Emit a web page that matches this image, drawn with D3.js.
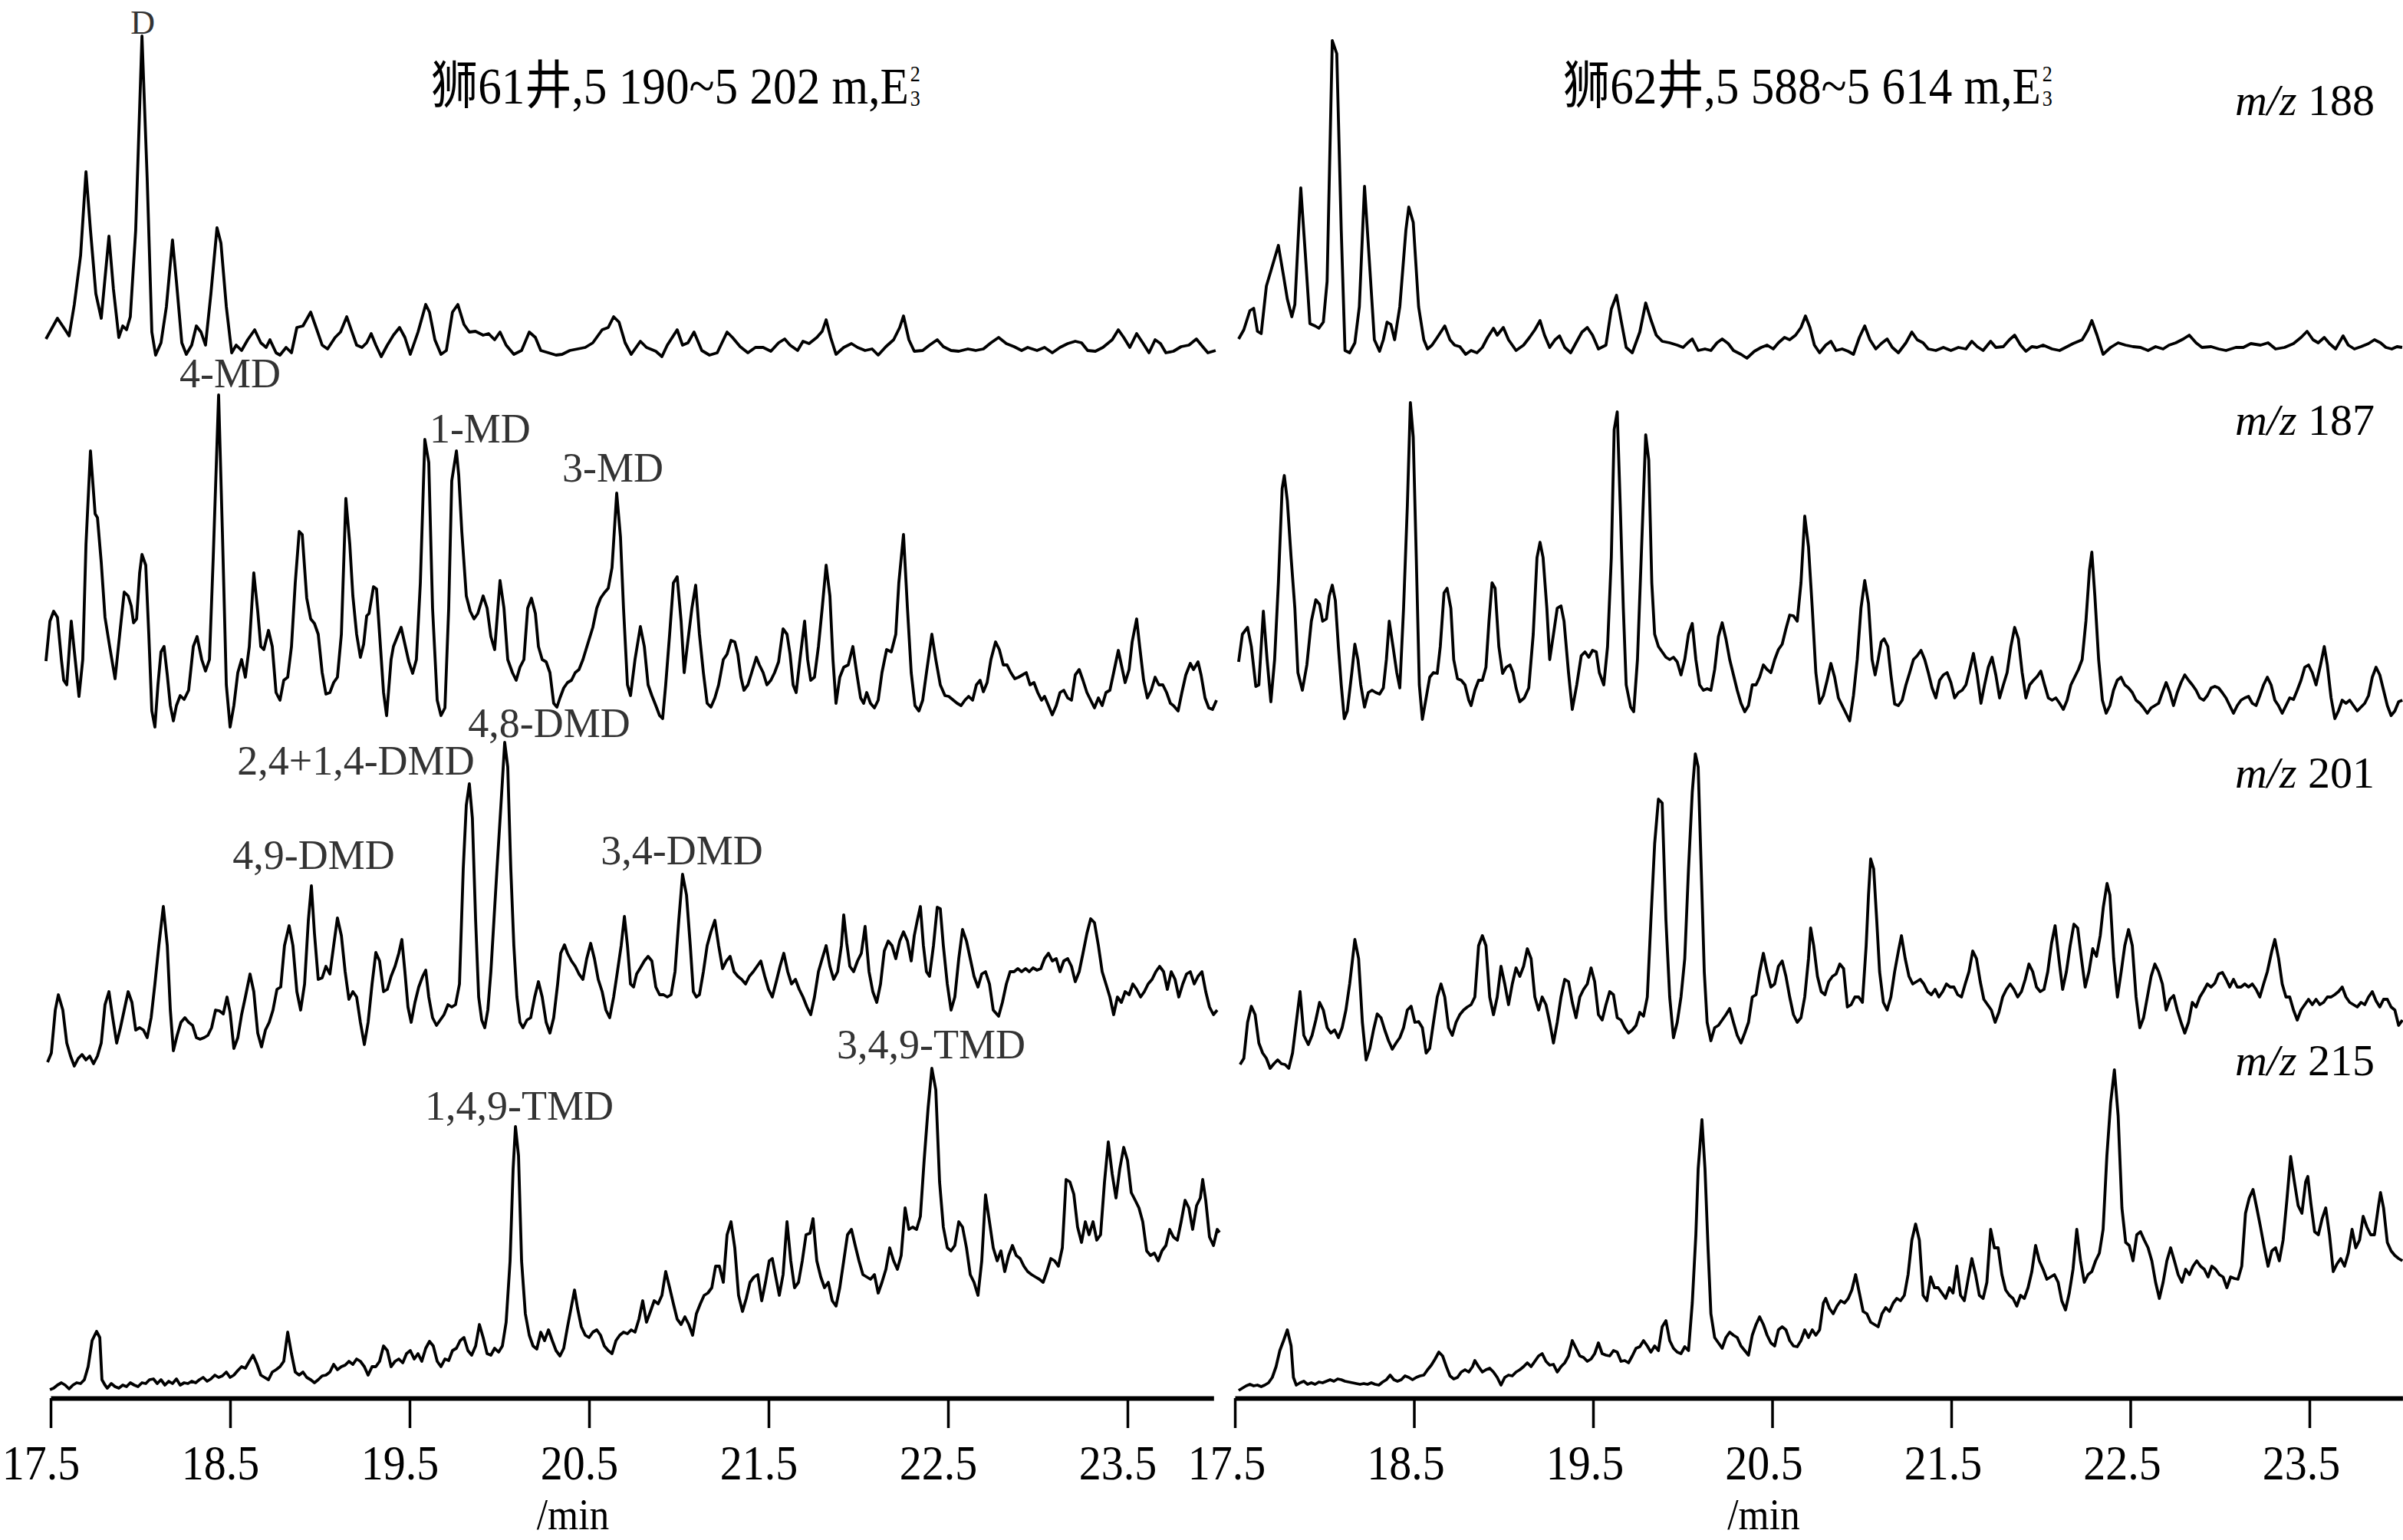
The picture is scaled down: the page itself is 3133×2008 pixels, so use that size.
<!DOCTYPE html>
<html><head><meta charset="utf-8">
<script src="https://cdnjs.cloudflare.com/ajax/libs/d3/7.8.5/d3.min.js"></script>
<style>html,body{margin:0;padding:0;background:#fff;overflow:hidden}svg{display:block}</style>
</head><body>
<svg id="chart" width="3133" height="2008"></svg>
<script>
// ---------------- data (retention time / min, relative abundance) ----------------
const timeTicks = [17.5, 18.5, 19.5, 20.5, 21.5, 22.5, 23.5];
const ions = ["188", "187", "201", "215"];
const wellTitles = ["狮61井,5 190~5 202 m,E", "狮62井,5 588~5 614 m,E"];
const peakNames = ["D", "4-MD", "1-MD", "3-MD", "2,4+1,4-DMD", "4,8-DMD", "4,9-DMD", "3,4-DMD", "1,4,9-TMD", "3,4,9-TMD"];
const peakRows  = [0, 1, 1, 1, 2, 2, 2, 2, 3, 3];
const peakRT    = [18.009, 18.436, 19.585, 20.654, 19.833, 20.030, 18.953, 21.021, 20.090, 22.410];

const l188 = [[17.474,28],[17.538,55],[17.581,40],[17.603,32],[17.632,73],[17.667,137],[17.697,246],[17.722,170],[17.752,87],[17.782,55],[17.825,162],[17.850,93],[17.880,30],[17.902,45],[17.923,40],[17.944,57],[17.974,170],[18.009,423],[18.038,237],[18.064,37],[18.085,7],[18.115,23],[18.145,70],[18.179,157],[18.201,103],[18.231,23],[18.256,8],[18.286,20],[18.312,45],[18.338,37],[18.363,20],[18.393,87],[18.427,173],[18.449,153],[18.479,70],[18.509,10],[18.534,20],[18.564,13],[18.598,27],[18.637,40],[18.671,23],[18.701,17],[18.722,27],[18.756,10],[18.778,7],[18.812,17],[18.842,10],[18.872,43],[18.906,45],[18.949,63],[18.979,43],[19.013,20],[19.043,15],[19.085,30],[19.115,37],[19.150,57],[19.175,40],[19.205,20],[19.235,17],[19.261,23],[19.286,35],[19.312,20],[19.342,5],[19.376,20],[19.410,33],[19.444,43],[19.474,30],[19.504,8],[19.547,37],[19.590,73],[19.611,63],[19.641,27],[19.675,8],[19.705,13],[19.739,63],[19.769,73],[19.803,47],[19.833,37],[19.867,38],[19.910,33],[19.940,35],[19.974,27],[20.004,37],[20.038,20],[20.081,8],[20.124,13],[20.167,37],[20.201,30],[20.231,13],[20.274,10],[20.316,7],[20.350,8],[20.393,13],[20.436,15],[20.479,17],[20.521,23],[20.573,40],[20.607,43],[20.637,57],[20.667,50],[20.701,23],[20.735,8],[20.786,25],[20.820,17],[20.872,12],[20.906,5],[20.936,20],[20.991,40],[21.021,20],[21.051,23],[21.085,37],[21.128,13],[21.171,7],[21.214,10],[21.269,37],[21.299,30],[21.342,18],[21.385,10],[21.427,17],[21.470,17],[21.513,12],[21.556,23],[21.590,28],[21.620,20],[21.662,13],[21.692,25],[21.726,22],[21.769,30],[21.799,38],[21.821,53],[21.846,30],[21.876,8],[21.919,17],[21.962,22],[21.996,17],[22.038,13],[22.077,15],[22.111,7],[22.154,18],[22.197,27],[22.231,43],[22.252,58],[22.282,27],[22.312,12],[22.359,13],[22.397,20],[22.440,27],[22.474,18],[22.517,13],[22.560,12],[22.611,15],[22.654,13],[22.697,15],[22.739,23],[22.782,30],[22.825,22],[22.868,18],[22.910,13],[22.944,17],[22.996,13],[23.038,17],[23.081,10],[23.124,17],[23.167,22],[23.209,25],[23.244,23],[23.278,13],[23.321,12],[23.363,17],[23.415,27],[23.449,40],[23.479,30],[23.513,17],[23.551,35],[23.585,23],[23.620,10],[23.654,27],[23.684,22],[23.714,10],[23.756,12],[23.799,18],[23.842,20],[23.884,28],[23.919,18],[23.948,10],[23.991,13]];

const r188 = [[17.521,28],[17.550,40],[17.584,65],[17.605,68],[17.626,38],[17.647,35],[17.676,97],[17.709,123],[17.743,150],[17.772,110],[17.793,80],[17.818,57],[17.835,73],[17.868,225],[17.894,137],[17.919,48],[17.948,45],[17.969,42],[17.994,50],[18.015,103],[18.044,417],[18.069,400],[18.094,170],[18.115,13],[18.141,10],[18.170,23],[18.195,70],[18.224,227],[18.249,137],[18.279,27],[18.308,12],[18.329,27],[18.350,50],[18.371,47],[18.392,27],[18.421,70],[18.455,170],[18.471,200],[18.496,180],[18.526,70],[18.555,27],[18.576,15],[18.601,20],[18.630,30],[18.672,45],[18.701,27],[18.727,20],[18.756,18],[18.789,8],[18.819,13],[18.852,10],[18.882,17],[18.911,30],[18.944,42],[18.965,33],[18.999,43],[19.028,27],[19.070,13],[19.112,20],[19.145,30],[19.175,40],[19.204,52],[19.229,33],[19.258,17],[19.288,27],[19.313,32],[19.342,17],[19.375,10],[19.405,23],[19.438,37],[19.468,43],[19.497,33],[19.530,15],[19.572,20],[19.602,67],[19.631,85],[19.656,53],[19.685,17],[19.719,10],[19.761,37],[19.794,75],[19.823,53],[19.853,33],[19.886,25],[19.928,23],[19.970,20],[20.003,17],[20.029,23],[20.054,28],[20.087,13],[20.125,15],[20.158,13],[20.192,23],[20.221,28],[20.255,22],[20.284,13],[20.326,8],[20.359,3],[20.401,12],[20.439,17],[20.472,20],[20.506,15],[20.535,23],[20.569,30],[20.598,27],[20.631,33],[20.661,43],[20.686,58],[20.711,43],[20.736,20],[20.765,10],[20.799,20],[20.828,25],[20.857,13],[20.891,15],[20.924,12],[20.954,8],[20.987,30],[21.017,45],[21.046,27],[21.079,15],[21.109,22],[21.142,28],[21.171,17],[21.205,10],[21.247,23],[21.280,37],[21.310,27],[21.343,23],[21.372,15],[21.414,13],[21.456,17],[21.498,13],[21.540,17],[21.582,15],[21.615,25],[21.645,18],[21.678,13],[21.720,25],[21.749,17],[21.791,18],[21.825,27],[21.854,33],[21.887,20],[21.917,12],[21.950,18],[21.979,17],[22.013,20],[22.063,15],[22.105,13],[22.147,18],[22.180,22],[22.231,27],[22.264,40],[22.285,52],[22.314,33],[22.348,8],[22.390,17],[22.432,23],[22.473,20],[22.515,18],[22.557,17],[22.599,13],[22.641,18],[22.683,15],[22.716,20],[22.754,23],[22.796,28],[22.829,33],[22.867,23],[22.900,17],[22.951,18],[22.993,15],[23.034,13],[23.089,17],[23.131,17],[23.173,22],[23.227,20],[23.269,23],[23.311,15],[23.361,17],[23.411,22],[23.453,30],[23.487,38],[23.520,27],[23.549,23],[23.583,30],[23.612,22],[23.646,15],[23.688,32],[23.717,20],[23.751,15],[23.788,18],[23.830,22],[23.863,27],[23.897,23],[23.927,17],[23.960,15],[23.989,18],[24.018,17]];

const l187 = [[17.474,88],[17.496,140],[17.517,153],[17.538,145],[17.560,90],[17.573,63],[17.590,57],[17.615,140],[17.637,90],[17.658,42],[17.679,90],[17.697,240],[17.722,362],[17.748,280],[17.761,275],[17.782,217],[17.803,145],[17.829,107],[17.859,65],[17.885,123],[17.910,178],[17.932,173],[17.949,160],[17.962,138],[17.979,143],[17.996,203],[18.009,227],[18.030,213],[18.047,123],[18.064,23],[18.081,2],[18.098,57],[18.115,100],[18.132,107],[18.150,70],[18.167,30],[18.184,10],[18.201,30],[18.222,43],[18.244,38],[18.269,50],[18.295,107],[18.316,120],[18.342,90],[18.363,75],[18.385,90],[18.406,223],[18.436,435],[18.457,257],[18.479,57],[18.500,2],[18.521,30],[18.543,73],[18.564,90],[18.585,67],[18.607,107],[18.632,203],[18.654,153],[18.671,107],[18.688,103],[18.714,128],[18.735,107],[18.756,47],[18.778,37],[18.799,63],[18.821,67],[18.842,107],[18.863,190],[18.885,257],[18.902,253],[18.927,170],[18.949,143],[18.970,137],[18.991,123],[19.013,73],[19.034,45],[19.056,47],[19.077,60],[19.098,67],[19.120,123],[19.145,300],[19.167,240],[19.184,173],[19.205,123],[19.226,93],[19.244,110],[19.261,147],[19.274,150],[19.299,185],[19.316,182],[19.333,123],[19.355,47],[19.372,17],[19.397,90],[19.410,107],[19.432,120],[19.453,132],[19.474,110],[19.496,87],[19.517,72],[19.538,90],[19.560,190],[19.585,377],[19.607,347],[19.628,157],[19.654,37],[19.675,17],[19.697,27],[19.718,157],[19.735,323],[19.761,362],[19.774,330],[19.791,257],[19.816,173],[19.838,153],[19.859,143],[19.880,150],[19.910,173],[19.932,157],[19.953,120],[19.974,103],[20.004,193],[20.026,157],[20.047,90],[20.073,73],[20.094,63],[20.115,80],[20.137,90],[20.158,157],[20.179,170],[20.201,150],[20.218,107],[20.239,90],[20.261,87],[20.282,73],[20.303,33],[20.321,28],[20.338,40],[20.359,53],[20.380,60],[20.402,63],[20.423,73],[20.444,77],[20.466,90],[20.496,113],[20.521,132],[20.543,157],[20.564,170],[20.585,177],[20.607,183],[20.628,210],[20.654,307],[20.675,250],[20.692,157],[20.714,57],[20.731,43],[20.756,90],[20.786,133],[20.808,107],[20.829,57],[20.850,43],[20.872,30],[20.893,17],[20.910,13],[20.927,57],[20.949,123],[20.970,190],[20.991,198],[21.013,140],[21.030,73],[21.047,107],[21.073,157],[21.094,187],[21.115,123],[21.137,73],[21.158,33],[21.179,28],[21.201,40],[21.222,57],[21.248,90],[21.269,97],[21.291,115],[21.312,113],[21.329,97],[21.346,67],[21.363,50],[21.385,57],[21.406,73],[21.432,93],[21.449,83],[21.470,73],[21.491,57],[21.513,63],[21.534,73],[21.556,87],[21.581,130],[21.603,123],[21.620,97],[21.637,57],[21.654,47],[21.675,90],[21.701,140],[21.718,90],[21.735,63],[21.756,67],[21.778,107],[21.799,157],[21.821,213],[21.842,173],[21.859,90],[21.876,33],[21.897,67],[21.919,80],[21.944,83],[21.970,107],[21.991,73],[22.013,40],[22.030,33],[22.047,47],[22.068,33],[22.090,27],[22.111,37],[22.132,73],[22.158,103],[22.184,100],[22.209,123],[22.226,190],[22.252,253],[22.274,157],[22.295,73],[22.316,30],[22.338,23],[22.359,37],[22.380,73],[22.410,123],[22.432,90],[22.457,57],[22.483,43],[22.504,42],[22.530,37],[22.551,33],[22.573,30],[22.594,37],[22.615,42],[22.637,37],[22.658,57],[22.679,63],[22.697,48],[22.718,60],[22.739,90],[22.765,113],[22.786,103],[22.808,83],[22.829,83],[22.850,73],[22.872,65],[22.893,67],[22.915,70],[22.936,73],[22.957,57],[22.979,60],[23.000,47],[23.021,37],[23.038,42],[23.060,30],[23.081,18],[23.103,30],[23.124,47],[23.145,50],[23.167,40],[23.188,37],[23.209,70],[23.231,77],[23.252,63],[23.274,47],[23.295,37],[23.316,27],[23.338,40],[23.359,30],[23.380,47],[23.402,50],[23.423,73],[23.449,102],[23.466,83],[23.487,60],[23.509,77],[23.526,113],[23.551,143],[23.568,107],[23.590,63],[23.611,40],[23.632,50],[23.654,67],[23.675,57],[23.697,57],[23.718,47],[23.739,33],[23.756,30],[23.782,23],[23.803,47],[23.825,70],[23.850,85],[23.868,77],[23.893,87],[23.910,70],[23.932,40],[23.953,27],[23.974,25],[23.996,37]];

const r187 = [[17.521,87],[17.542,123],[17.571,132],[17.592,107],[17.617,55],[17.634,57],[17.659,153],[17.680,90],[17.701,35],[17.722,90],[17.743,190],[17.764,313],[17.776,330],[17.793,297],[17.814,223],[17.835,157],[17.852,73],[17.877,50],[17.902,83],[17.927,140],[17.952,168],[17.973,162],[17.990,140],[18.011,143],[18.027,173],[18.044,187],[18.061,167],[18.078,107],[18.094,57],[18.111,13],[18.128,23],[18.153,73],[18.170,110],[18.187,90],[18.203,57],[18.224,28],[18.245,47],[18.266,50],[18.287,47],[18.308,45],[18.329,53],[18.346,90],[18.362,140],[18.383,107],[18.404,73],[18.421,53],[18.442,157],[18.463,290],[18.480,425],[18.496,380],[18.513,223],[18.530,57],[18.547,12],[18.568,40],[18.588,67],[18.609,73],[18.630,72],[18.647,107],[18.668,177],[18.685,183],[18.706,157],[18.722,90],[18.743,65],[18.764,63],[18.785,57],[18.806,37],[18.819,30],[18.840,50],[18.861,63],[18.882,63],[18.902,80],[18.919,140],[18.936,190],[18.953,183],[18.974,107],[18.995,72],[19.015,80],[19.036,83],[19.053,73],[19.070,53],[19.091,35],[19.116,40],[19.141,53],[19.166,123],[19.187,223],[19.204,243],[19.221,223],[19.242,157],[19.258,90],[19.279,123],[19.300,157],[19.321,160],[19.338,140],[19.363,73],[19.384,25],[19.409,57],[19.434,95],[19.455,100],[19.476,93],[19.497,102],[19.518,100],[19.535,73],[19.560,57],[19.581,107],[19.602,223],[19.618,390],[19.635,413],[19.652,290],[19.669,157],[19.685,57],[19.710,28],[19.727,22],[19.748,90],[19.769,223],[19.794,383],[19.811,350],[19.828,190],[19.844,123],[19.865,107],[19.886,100],[19.907,93],[19.928,90],[19.949,93],[19.970,87],[19.991,70],[20.012,90],[20.033,123],[20.054,137],[20.074,90],[20.095,57],[20.116,50],[20.137,52],[20.158,50],[20.179,77],[20.200,120],[20.221,138],[20.242,117],[20.263,90],[20.284,70],[20.305,50],[20.326,33],[20.347,22],[20.368,30],[20.389,57],[20.410,57],[20.430,67],[20.451,83],[20.472,77],[20.493,73],[20.514,90],[20.535,103],[20.556,110],[20.577,130],[20.598,148],[20.619,147],[20.640,140],[20.661,190],[20.682,277],[20.703,237],[20.724,157],[20.744,73],[20.765,33],[20.786,43],[20.807,63],[20.828,85],[20.849,67],[20.870,40],[20.891,30],[20.912,20],[20.933,10],[20.954,43],[20.975,90],[20.996,157],[21.017,193],[21.038,163],[21.058,90],[21.075,70],[21.092,90],[21.109,113],[21.125,117],[21.146,107],[21.163,70],[21.184,32],[21.205,30],[21.226,37],[21.247,57],[21.268,73],[21.289,90],[21.310,95],[21.331,102],[21.352,90],[21.372,73],[21.393,53],[21.414,40],[21.435,63],[21.456,70],[21.477,73],[21.498,60],[21.519,40],[21.540,47],[21.561,50],[21.582,57],[21.603,77],[21.624,98],[21.645,70],[21.666,33],[21.686,57],[21.707,80],[21.728,93],[21.749,70],[21.770,40],[21.791,57],[21.812,73],[21.833,107],[21.854,132],[21.875,117],[21.896,73],[21.917,40],[21.938,57],[21.959,63],[21.980,68],[22.000,75],[22.021,57],[22.042,40],[22.063,37],[22.084,40],[22.105,33],[22.126,25],[22.147,37],[22.168,57],[22.189,67],[22.210,77],[22.231,90],[22.252,140],[22.272,207],[22.285,230],[22.302,173],[22.323,90],[22.344,37],[22.365,20],[22.386,30],[22.406,50],[22.427,63],[22.448,67],[22.469,57],[22.490,53],[22.511,47],[22.532,37],[22.553,33],[22.574,27],[22.595,20],[22.616,27],[22.637,30],[22.658,33],[22.679,47],[22.700,60],[22.721,47],[22.741,30],[22.762,47],[22.783,60],[22.804,70],[22.825,63],[22.846,57],[22.867,50],[22.888,40],[22.909,37],[22.930,43],[22.951,53],[22.972,55],[22.993,53],[23.013,47],[23.034,40],[23.055,30],[23.076,20],[23.097,30],[23.118,37],[23.139,40],[23.160,42],[23.181,33],[23.202,30],[23.223,43],[23.244,57],[23.265,67],[23.286,57],[23.307,37],[23.327,30],[23.348,20],[23.369,30],[23.390,40],[23.411,38],[23.432,50],[23.453,63],[23.474,80],[23.495,83],[23.516,73],[23.537,57],[23.562,83],[23.583,107],[23.600,83],[23.621,40],[23.642,13],[23.662,23],[23.683,37],[23.704,33],[23.725,37],[23.746,30],[23.767,23],[23.788,28],[23.809,33],[23.830,43],[23.851,67],[23.872,80],[23.893,70],[23.914,50],[23.935,30],[23.956,17],[23.977,23],[23.998,35],[24.019,37]];

const l201 = [[17.483,15],[17.504,27],[17.526,83],[17.543,103],[17.568,83],[17.590,40],[17.611,23],[17.632,10],[17.654,20],[17.675,25],[17.697,18],[17.718,23],[17.739,13],[17.761,23],[17.782,40],[17.803,90],[17.825,107],[17.846,73],[17.868,40],[17.889,60],[17.910,83],[17.932,107],[17.953,93],[17.974,57],[17.996,60],[18.017,57],[18.038,47],[18.060,73],[18.081,117],[18.103,167],[18.128,218],[18.150,167],[18.167,83],[18.184,30],[18.205,50],[18.226,67],[18.248,73],[18.269,67],[18.291,63],[18.312,47],[18.333,45],[18.355,47],[18.376,50],[18.397,60],[18.419,83],[18.440,82],[18.462,78],[18.483,100],[18.500,80],[18.521,33],[18.543,47],[18.564,77],[18.585,100],[18.611,130],[18.632,107],[18.654,53],[18.675,35],[18.697,57],[18.718,67],[18.739,83],[18.761,110],[18.782,113],[18.803,167],[18.829,193],[18.850,167],[18.872,107],[18.893,83],[18.915,117],[18.936,200],[18.953,245],[18.970,183],[18.991,123],[19.013,125],[19.034,140],[19.056,130],[19.077,167],[19.098,203],[19.120,180],[19.141,133],[19.162,97],[19.184,107],[19.205,100],[19.226,67],[19.248,38],[19.269,67],[19.291,117],[19.312,158],[19.333,147],[19.355,107],[19.376,110],[19.397,127],[19.419,140],[19.440,157],[19.457,175],[19.474,133],[19.491,87],[19.509,67],[19.530,93],[19.551,113],[19.573,127],[19.590,135],[19.607,100],[19.628,73],[19.650,63],[19.671,70],[19.692,77],[19.714,90],[19.735,87],[19.756,90],[19.778,117],[19.799,267],[19.816,350],[19.833,378],[19.850,333],[19.868,200],[19.885,100],[19.902,70],[19.919,60],[19.936,83],[19.953,133],[19.970,200],[19.987,267],[20.009,350],[20.030,432],[20.047,400],[20.064,267],[20.081,167],[20.098,100],[20.115,67],[20.132,60],[20.154,70],[20.175,73],[20.197,100],[20.218,120],[20.239,100],[20.261,67],[20.282,53],[20.303,73],[20.325,117],[20.342,157],[20.363,168],[20.380,157],[20.402,147],[20.423,140],[20.444,130],[20.466,123],[20.487,150],[20.509,170],[20.530,150],[20.551,123],[20.573,107],[20.594,83],[20.615,73],[20.637,100],[20.658,133],[20.679,167],[20.697,205],[20.714,167],[20.731,117],[20.748,113],[20.765,130],[20.786,138],[20.808,147],[20.829,153],[20.850,147],[20.872,113],[20.893,103],[20.915,103],[20.936,100],[20.957,103],[20.979,133],[21.000,200],[21.021,260],[21.043,233],[21.064,167],[21.081,107],[21.098,100],[21.115,103],[21.137,133],[21.158,167],[21.179,185],[21.201,200],[21.222,167],[21.244,137],[21.265,147],[21.286,153],[21.308,133],[21.329,127],[21.350,123],[21.372,117],[21.393,127],[21.415,133],[21.436,140],[21.457,147],[21.479,127],[21.500,110],[21.521,100],[21.543,120],[21.564,140],[21.585,157],[21.607,133],[21.628,117],[21.650,123],[21.671,110],[21.692,100],[21.714,87],[21.735,77],[21.756,100],[21.778,133],[21.799,150],[21.821,167],[21.842,140],[21.863,123],[21.885,133],[21.906,167],[21.919,207],[21.936,170],[21.953,140],[21.974,133],[21.996,147],[22.017,157],[22.038,192],[22.060,133],[22.081,107],[22.103,93],[22.124,117],[22.145,160],[22.167,173],[22.188,167],[22.209,150],[22.231,173],[22.252,185],[22.274,173],[22.295,147],[22.312,180],[22.329,200],[22.346,218],[22.363,167],[22.380,133],[22.397,127],[22.419,167],[22.440,217],[22.457,215],[22.474,167],[22.496,117],[22.517,83],[22.538,100],[22.560,150],[22.581,188],[22.603,173],[22.624,150],[22.645,127],[22.667,113],[22.688,130],[22.709,133],[22.731,117],[22.752,83],[22.782,75],[22.803,93],[22.825,117],[22.846,133],[22.868,133],[22.889,137],[22.910,133],[22.932,137],[22.953,133],[22.974,138],[22.996,135],[23.017,137],[23.038,150],[23.060,157],[23.081,147],[23.103,150],[23.124,133],[23.145,147],[23.167,150],[23.188,140],[23.209,120],[23.231,133],[23.252,157],[23.274,183],[23.295,202],[23.316,197],[23.338,167],[23.359,133],[23.380,117],[23.402,100],[23.423,77],[23.444,100],[23.466,93],[23.487,107],[23.509,103],[23.530,117],[23.551,110],[23.573,100],[23.594,107],[23.615,117],[23.637,123],[23.658,133],[23.679,140],[23.701,133],[23.722,110],[23.744,133],[23.765,123],[23.786,100],[23.808,117],[23.829,130],[23.850,133],[23.872,117],[23.893,127],[23.915,133],[23.936,107],[23.957,87],[23.979,77],[24.000,83]];

const r201 = [[17.529,12],[17.550,20],[17.571,67],[17.592,88],[17.613,77],[17.634,40],[17.655,27],[17.676,20],[17.697,7],[17.718,13],[17.739,18],[17.760,13],[17.780,12],[17.801,7],[17.822,27],[17.843,67],[17.864,107],[17.885,50],[17.910,38],[17.931,50],[17.952,70],[17.973,93],[17.994,83],[18.015,60],[18.036,53],[18.057,57],[18.078,47],[18.099,60],[18.120,83],[18.141,117],[18.170,175],[18.191,150],[18.212,67],[18.233,18],[18.254,33],[18.274,57],[18.295,78],[18.316,73],[18.337,57],[18.358,43],[18.379,32],[18.400,40],[18.421,47],[18.442,60],[18.463,83],[18.484,88],[18.505,67],[18.526,68],[18.547,60],[18.568,27],[18.588,33],[18.609,67],[18.630,100],[18.651,117],[18.672,100],[18.693,60],[18.714,50],[18.735,67],[18.756,77],[18.777,83],[18.798,87],[18.819,90],[18.840,100],[18.861,167],[18.882,180],[18.902,167],[18.923,100],[18.944,77],[18.965,100],[18.986,140],[19.007,117],[19.028,90],[19.049,117],[19.070,138],[19.091,127],[19.112,140],[19.133,163],[19.154,150],[19.175,100],[19.196,83],[19.216,100],[19.237,90],[19.258,67],[19.279,40],[19.300,67],[19.321,100],[19.342,123],[19.363,120],[19.384,93],[19.405,73],[19.426,100],[19.447,110],[19.468,117],[19.489,138],[19.509,120],[19.530,77],[19.551,70],[19.572,90],[19.593,107],[19.614,103],[19.635,73],[19.656,70],[19.677,60],[19.698,53],[19.719,57],[19.740,63],[19.761,80],[19.782,75],[19.803,100],[19.823,200],[19.844,300],[19.865,358],[19.886,353],[19.907,200],[19.928,100],[19.949,47],[19.970,67],[19.991,100],[20.012,150],[20.033,267],[20.054,367],[20.071,417],[20.087,400],[20.104,267],[20.121,133],[20.137,67],[20.158,43],[20.179,60],[20.200,63],[20.221,70],[20.242,77],[20.263,85],[20.284,67],[20.305,50],[20.326,40],[20.347,53],[20.368,67],[20.389,100],[20.410,103],[20.430,133],[20.451,157],[20.472,133],[20.493,113],[20.514,117],[20.535,140],[20.556,147],[20.577,127],[20.598,100],[20.619,77],[20.640,67],[20.661,73],[20.682,100],[20.703,150],[20.715,190],[20.732,167],[20.753,127],[20.774,107],[20.795,103],[20.816,120],[20.837,127],[20.857,130],[20.878,143],[20.899,137],[20.920,87],[20.941,90],[20.962,100],[20.983,100],[21.004,93],[21.025,167],[21.038,233],[21.050,280],[21.067,267],[21.084,200],[21.100,133],[21.121,93],[21.142,83],[21.163,100],[21.184,133],[21.205,160],[21.222,180],[21.243,150],[21.264,127],[21.285,117],[21.306,120],[21.327,123],[21.347,117],[21.368,107],[21.389,103],[21.410,110],[21.431,100],[21.452,107],[21.473,117],[21.494,113],[21.515,113],[21.536,103],[21.557,100],[21.578,117],[21.599,133],[21.620,160],[21.641,150],[21.662,120],[21.682,97],[21.703,90],[21.724,83],[21.745,67],[21.766,80],[21.787,100],[21.808,110],[21.829,117],[21.850,110],[21.871,100],[21.892,107],[21.913,123],[21.934,143],[21.955,133],[21.976,113],[21.997,107],[22.018,110],[22.039,133],[22.060,170],[22.080,193],[22.101,150],[22.122,110],[22.143,133],[22.164,167],[22.185,195],[22.206,190],[22.227,150],[22.248,113],[22.269,133],[22.290,163],[22.311,153],[22.332,180],[22.349,217],[22.370,248],[22.386,233],[22.407,150],[22.428,100],[22.449,133],[22.469,167],[22.490,188],[22.511,167],[22.532,100],[22.553,60],[22.574,73],[22.595,100],[22.616,127],[22.637,143],[22.658,133],[22.679,117],[22.700,83],[22.721,97],[22.742,102],[22.762,83],[22.783,67],[22.804,53],[22.825,67],[22.846,93],[22.867,87],[22.888,100],[22.909,108],[22.930,117],[22.951,113],[22.972,118],[22.993,130],[23.014,132],[23.035,123],[23.055,113],[23.076,123],[23.097,113],[23.118,113],[23.139,117],[23.160,113],[23.181,117],[23.202,110],[23.223,100],[23.244,117],[23.265,133],[23.290,160],[23.307,175],[23.328,150],[23.348,117],[23.369,100],[23.390,100],[23.411,83],[23.432,70],[23.453,83],[23.474,90],[23.495,97],[23.516,90],[23.537,97],[23.558,90],[23.579,93],[23.600,100],[23.621,100],[23.641,103],[23.662,107],[23.683,113],[23.704,100],[23.725,93],[23.746,90],[23.767,87],[23.788,93],[23.809,90],[23.830,100],[23.851,107],[23.872,95],[23.893,87],[23.914,97],[23.935,97],[23.956,87],[23.977,83],[23.998,63],[24.019,70]];

const l215 = [[17.496,3],[17.517,5],[17.538,9],[17.560,12],[17.581,9],[17.603,4],[17.624,9],[17.645,12],[17.667,11],[17.688,16],[17.709,33],[17.731,67],[17.756,79],[17.774,71],[17.786,16],[17.803,9],[17.816,5],[17.838,11],[17.859,7],[17.880,5],[17.902,9],[17.923,7],[17.944,12],[17.966,9],[17.987,7],[18.009,12],[18.030,11],[18.051,16],[18.073,17],[18.094,11],[18.115,16],[18.137,9],[18.158,14],[18.179,11],[18.201,17],[18.222,9],[18.244,12],[18.265,11],[18.286,14],[18.308,12],[18.329,16],[18.350,19],[18.372,14],[18.393,17],[18.415,22],[18.436,19],[18.457,21],[18.479,26],[18.500,19],[18.521,22],[18.543,28],[18.564,33],[18.585,31],[18.607,40],[18.628,48],[18.650,36],[18.671,22],[18.692,19],[18.714,16],[18.735,26],[18.756,29],[18.778,33],[18.799,40],[18.821,78],[18.842,50],[18.863,26],[18.885,22],[18.906,26],[18.927,19],[18.949,16],[18.970,12],[18.991,16],[19.013,21],[19.034,22],[19.056,26],[19.077,36],[19.098,29],[19.120,33],[19.141,35],[19.162,40],[19.184,36],[19.205,43],[19.226,40],[19.248,33],[19.269,22],[19.291,33],[19.312,33],[19.333,40],[19.355,60],[19.376,54],[19.397,33],[19.419,40],[19.440,43],[19.462,38],[19.483,50],[19.504,54],[19.526,43],[19.547,50],[19.568,40],[19.590,57],[19.611,66],[19.632,60],[19.654,40],[19.675,33],[19.697,43],[19.718,41],[19.739,54],[19.761,57],[19.782,67],[19.803,71],[19.825,54],[19.846,48],[19.868,60],[19.889,88],[19.910,71],[19.932,50],[19.953,48],[19.974,57],[19.996,52],[20.017,60],[20.038,91],[20.060,171],[20.077,291],[20.090,346],[20.107,308],[20.124,171],[20.145,102],[20.167,74],[20.188,60],[20.209,56],[20.231,78],[20.252,67],[20.274,81],[20.295,67],[20.316,54],[20.338,47],[20.359,57],[20.380,85],[20.402,112],[20.419,133],[20.436,109],[20.457,85],[20.479,74],[20.500,71],[20.521,78],[20.543,81],[20.564,74],[20.585,60],[20.607,54],[20.628,50],[20.650,67],[20.671,74],[20.692,78],[20.714,76],[20.735,81],[20.756,78],[20.778,95],[20.799,119],[20.820,91],[20.842,105],[20.863,119],[20.885,115],[20.906,126],[20.927,157],[20.949,136],[20.970,115],[20.991,95],[21.013,88],[21.034,98],[21.056,88],[21.077,74],[21.098,102],[21.120,115],[21.141,126],[21.162,129],[21.184,136],[21.205,164],[21.226,164],[21.248,143],[21.269,205],[21.291,222],[21.312,188],[21.333,126],[21.355,105],[21.376,122],[21.397,143],[21.419,150],[21.440,153],[21.462,119],[21.483,143],[21.504,171],[21.521,174],[21.538,153],[21.560,126],[21.581,153],[21.603,222],[21.624,171],[21.645,136],[21.667,143],[21.688,171],[21.709,205],[21.731,207],[21.748,226],[21.769,171],[21.791,150],[21.812,136],[21.833,143],[21.855,119],[21.876,112],[21.897,136],[21.919,171],[21.940,205],[21.962,212],[21.983,191],[22.004,171],[22.026,153],[22.047,150],[22.068,147],[22.090,153],[22.111,129],[22.132,143],[22.154,160],[22.175,188],[22.197,171],[22.218,160],[22.239,178],[22.261,240],[22.282,212],[22.303,215],[22.325,212],[22.346,229],[22.367,302],[22.389,370],[22.410,422],[22.432,394],[22.453,274],[22.474,215],[22.496,188],[22.517,184],[22.538,191],[22.560,222],[22.581,215],[22.603,188],[22.624,153],[22.645,143],[22.667,126],[22.688,171],[22.709,257],[22.731,222],[22.752,188],[22.774,171],[22.795,184],[22.816,157],[22.838,178],[22.859,191],[22.880,178],[22.902,174],[22.923,164],[22.944,157],[22.966,153],[22.987,150],[23.009,147],[23.030,143],[23.051,157],[23.073,174],[23.094,171],[23.115,164],[23.137,188],[23.158,277],[23.179,274],[23.201,258],[23.222,215],[23.244,195],[23.265,222],[23.286,205],[23.308,222],[23.329,198],[23.350,205],[23.372,274],[23.393,326],[23.415,284],[23.436,253],[23.457,291],[23.479,319],[23.500,302],[23.521,260],[23.543,250],[23.564,240],[23.585,222],[23.607,184],[23.628,178],[23.650,181],[23.671,171],[23.692,184],[23.714,191],[23.735,212],[23.756,202],[23.778,198],[23.799,222],[23.821,250],[23.842,240],[23.863,212],[23.885,243],[23.906,253],[23.919,277],[23.936,250],[23.957,202],[23.979,191],[24.000,212],[24.013,208]];

const r215 = [[17.521,2],[17.542,5],[17.563,8],[17.584,10],[17.605,8],[17.626,9],[17.647,7],[17.667,9],[17.688,12],[17.709,19],[17.730,33],[17.751,54],[17.772,67],[17.793,81],[17.814,60],[17.827,19],[17.843,9],[17.864,12],[17.885,14],[17.906,10],[17.927,12],[17.948,10],[17.969,13],[17.990,12],[18.011,14],[18.032,16],[18.053,14],[18.074,17],[18.094,16],[18.115,14],[18.136,13],[18.157,12],[18.178,11],[18.199,10],[18.220,11],[18.241,10],[18.262,12],[18.283,10],[18.304,9],[18.325,13],[18.346,16],[18.367,22],[18.388,16],[18.408,14],[18.429,16],[18.450,21],[18.471,19],[18.492,16],[18.513,19],[18.534,21],[18.555,22],[18.576,29],[18.597,35],[18.618,43],[18.639,52],[18.660,47],[18.681,33],[18.701,21],[18.722,17],[18.743,19],[18.764,26],[18.785,29],[18.806,26],[18.827,33],[18.840,41],[18.861,33],[18.882,26],[18.902,29],[18.923,31],[18.944,26],[18.965,19],[18.986,9],[19.007,19],[19.028,22],[19.049,21],[19.070,26],[19.091,29],[19.112,33],[19.133,38],[19.154,33],[19.175,40],[19.196,47],[19.216,50],[19.237,40],[19.258,35],[19.279,36],[19.300,26],[19.321,33],[19.342,38],[19.363,47],[19.384,67],[19.405,57],[19.426,47],[19.447,45],[19.468,40],[19.489,43],[19.509,50],[19.530,64],[19.551,50],[19.572,48],[19.593,47],[19.614,54],[19.635,52],[19.656,40],[19.677,41],[19.698,38],[19.719,47],[19.740,57],[19.761,59],[19.782,67],[19.803,60],[19.823,52],[19.844,60],[19.865,54],[19.886,85],[19.907,93],[19.928,67],[19.949,57],[19.970,52],[19.991,50],[20.012,59],[20.033,54],[20.054,116],[20.074,205],[20.087,291],[20.108,355],[20.125,291],[20.142,188],[20.158,102],[20.179,71],[20.200,64],[20.221,57],[20.242,71],[20.263,78],[20.284,74],[20.305,71],[20.326,60],[20.347,54],[20.368,48],[20.389,74],[20.410,88],[20.430,98],[20.451,88],[20.472,74],[20.493,64],[20.514,60],[20.535,81],[20.556,85],[20.577,81],[20.598,67],[20.619,60],[20.640,59],[20.661,67],[20.682,81],[20.703,71],[20.724,81],[20.744,74],[20.765,81],[20.786,116],[20.799,122],[20.820,109],[20.841,102],[20.862,112],[20.883,119],[20.904,116],[20.925,122],[20.945,133],[20.966,153],[20.987,129],[21.008,105],[21.029,102],[21.050,91],[21.071,88],[21.092,85],[21.113,102],[21.134,110],[21.155,105],[21.176,116],[21.196,122],[21.217,119],[21.238,126],[21.259,153],[21.280,198],[21.301,219],[21.322,198],[21.343,126],[21.364,119],[21.385,150],[21.406,136],[21.427,136],[21.448,129],[21.469,122],[21.490,136],[21.510,129],[21.531,164],[21.552,126],[21.573,119],[21.594,147],[21.615,174],[21.636,153],[21.657,126],[21.678,122],[21.699,143],[21.720,212],[21.741,188],[21.762,188],[21.783,153],[21.804,133],[21.825,126],[21.845,122],[21.866,112],[21.887,126],[21.908,122],[21.929,136],[21.950,157],[21.971,191],[21.992,171],[22.013,160],[22.034,147],[22.055,150],[22.076,153],[22.097,143],[22.117,119],[22.138,107],[22.159,129],[22.180,160],[22.201,212],[22.222,171],[22.243,143],[22.264,153],[22.285,157],[22.306,171],[22.327,181],[22.348,212],[22.369,308],[22.390,377],[22.411,420],[22.432,360],[22.453,240],[22.474,195],[22.494,191],[22.515,171],[22.536,205],[22.557,209],[22.578,198],[22.599,188],[22.620,171],[22.641,143],[22.662,122],[22.683,143],[22.704,171],[22.725,188],[22.746,171],[22.767,153],[22.788,143],[22.809,160],[22.830,153],[22.850,164],[22.871,171],[22.892,164],[22.913,160],[22.934,150],[22.955,164],[22.976,160],[22.997,153],[23.018,150],[23.039,136],[23.060,150],[23.081,148],[23.101,147],[23.122,164],[23.143,233],[23.164,253],[23.185,264],[23.206,240],[23.227,215],[23.248,188],[23.269,164],[23.290,184],[23.311,188],[23.332,171],[23.353,198],[23.374,250],[23.395,307],[23.416,274],[23.437,243],[23.458,233],[23.479,274],[23.491,281],[23.508,246],[23.529,209],[23.550,205],[23.571,226],[23.591,240],[23.612,205],[23.633,157],[23.654,167],[23.675,174],[23.696,164],[23.717,181],[23.738,212],[23.759,188],[23.780,198],[23.800,229],[23.821,215],[23.842,205],[23.863,205],[23.884,240],[23.897,260],[23.914,240],[23.935,195],[23.956,184],[23.977,178],[23.998,174],[24.019,171]];

// ---------------- layout ----------------
const W = 3133, H = 2008;
const SERIF = "'Liberation Serif','Times New Roman','Noto Sans CJK SC',serif";
const svg = d3.select("#chart").attr("viewBox", `0 0 ${W} ${H}`);
svg.append("rect").attr("width", W).attr("height", H).attr("fill", "#fff");

const pxPerMinL = 234, pxPerMinR = 233.5;
const xL = d3.scaleLinear().domain([17.5, 23.98]).range([66, 66 + 6.48 * pxPerMinL]);
const xR = d3.scaleLinear().domain([17.5, 24.02]).range([1610, 1610 + 6.52 * pxPerMinR]);
const rowBase = [470, 950, 1400, 1815];
const yRow = rowBase.map(b => d3.scaleLinear().domain([0, 500]).range([b, b - 500]));

const series = [[l188, r188], [l187, r187], [l201, r201], [l215, r215]];
series.forEach((pair, i) => {
  pair.forEach((data, j) => {
    const x = j === 0 ? xL : xR;
    const line = d3.line().x(d => x(d[0])).y(d => yRow[i](d[1]));
    svg.append("path").datum(data)
      .attr("d", line)
      .attr("fill", "none")
      .attr("stroke", "#000")
      .attr("stroke-width", 3.8)
      .attr("stroke-linejoin", "round");
  });
});

// axes
const axisY = 1823;
[[xL, -13], [xR, -11]].forEach(([x, dx]) => {
  const g = svg.append("g").attr("transform", `translate(0,${axisY})`)
    .call(d3.axisBottom(x).tickValues(timeTicks).tickSize(39).tickSizeOuter(0).tickFormat(d3.format(".1f")));
  g.select(".domain").attr("stroke", "#000").attr("stroke-width", 6);
  g.selectAll(".tick line").attr("stroke", "#000").attr("stroke-width", 3.5);
  g.selectAll(".tick text")
    .attr("fill", "#000").attr("y", 0).attr("dy", 0).text("")
    .each(function(d) {
      d3.select(this).attr("transform", `translate(${dx},106) scale(0.92,1)`)
        .style("font-family", SERIF).style("font-size", "63px")
        .text(d3.format(".1f")(d));
    });
  g.attr("font-family", null).attr("font-size", null);
});
// axis unit labels
[[xL, -21], [xR, -11]].forEach(([x, dx]) => {
  svg.append("text")
    .attr("transform", `translate(${x(20.5) + dx},1994) scale(0.92,1)`)
    .attr("text-anchor", "middle").style("font-family", SERIF).style("font-size", "56px")
    .text("/min");
});

// well titles with stacked sub/superscript
[[562, 0], [2038, 1]].forEach(([x0, k]) => {
  const sx = 0.9;
  const t = svg.append("text")
    .attr("transform", `translate(${x0},135) scale(${sx},1)`)
    .style("font-family", SERIF).style("font-size", "68px").text(wellTitles[k]);
  const w = t.node().getComputedTextLength() * sx;
  svg.append("text").attr("transform", `translate(${x0 + w + 2},106) scale(${sx},1)`)
    .style("font-family", SERIF).style("font-size", "29px").text("2");
  svg.append("text").attr("transform", `translate(${x0 + w + 2},138) scale(${sx},1)`)
    .style("font-family", SERIF).style("font-size", "29px").text("3");
});

// ion labels
const ionBase = [150, 567, 1027, 1402];
ions.forEach((m, i) => {
  const t = svg.append("text").attr("x", 3096).attr("y", ionBase[i]).attr("text-anchor", "end")
    .style("font-family", SERIF).style("font-size", "58px");
  t.append("tspan").style("font-style", "italic").text("m/z");
  t.append("tspan").text(" " + m);
});

// peak labels (left column)
const labelDx = [1, 15, 72, -5, -148, 58, 3, -1, 5, -1];
const labelY  = [44, 505, 577, 628, 1010, 961, 1133, 1127, 1460, 1380];
peakNames.forEach((n, i) => {
  svg.append("text").attr("x", xL(peakRT[i]) + labelDx[i]).attr("y", labelY[i])
    .attr("text-anchor", "middle").attr("fill", "#333")
    .style("font-family", SERIF).style("font-size", i === 0 ? "44px" : "54px")
    .text(n);
});
</script>
</body></html>
